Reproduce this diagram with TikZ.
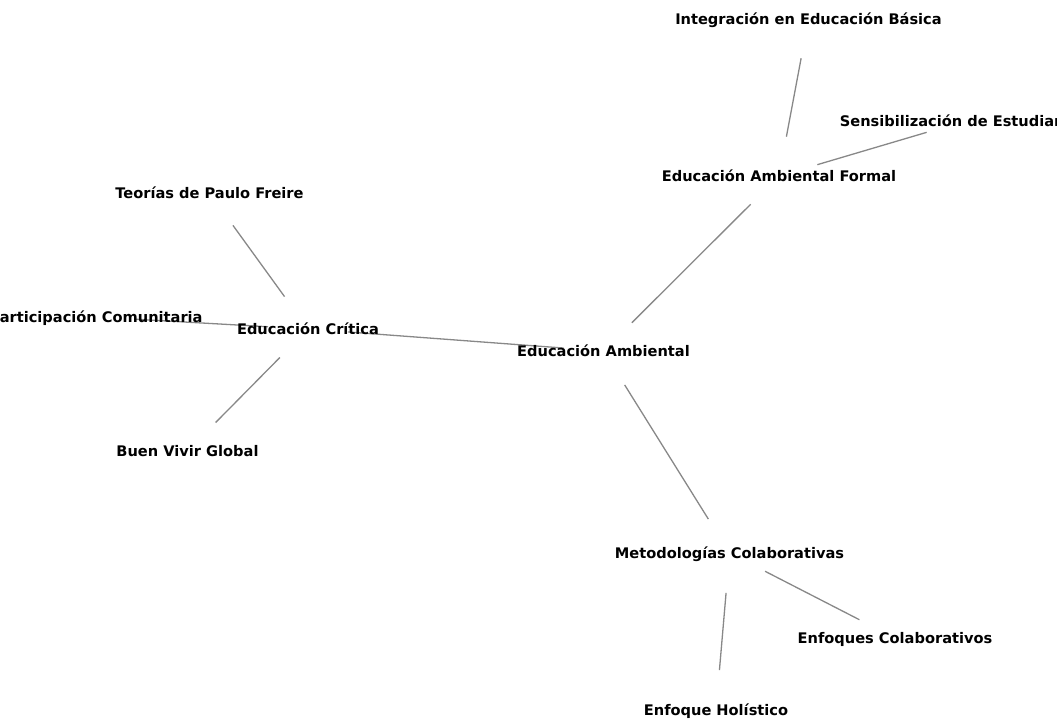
\documentclass[tikz,border=0pt]{standalone}
\usepackage{fontspec}
\setmainfont{DejaVu Sans}
\definecolor{edgec}{RGB}{136,136,136}
\pgfdeclarelayer{background}
\pgfsetlayers{background,main}
\begin{document}
\begin{tikzpicture}[x=1pt,y=-1pt,
  lbl/.style={font=\fontsize{14.6}{17}\selectfont\bfseries, inner sep=0pt, text height=10.6pt, text depth=0pt, anchor=center},
  edge/.style={draw=edgec, line width=1.3pt, shorten <=40pt, shorten >=40pt}]
\useasboundingbox (0,0) rectangle (1057,718);
\node[lbl] (int) at (808.5,19) {Integración en Educación Básica};
\node[lbl] (sen) at (965,121) {Sensibilización de Estudiantes};
\node[lbl] (form) at (779,176) {Educación Ambiental Formal};
\node[lbl] (teo) at (209.5,193) {Teorías de Paulo Freire};
\node[lbl] (par) at (96,317) {Participación Comunitaria};
\node[lbl] (cri) at (308,329) {Educación Crítica};
\node[lbl] (amb) at (603.5,351) {Educación Ambiental};
\node[lbl] (buen) at (187.5,451) {Buen Vivir Global};
\node[lbl] (met) at (729.5,553) {Metodologías Colaborativas};
\node[lbl] (enf) at (895,638) {Enfoques Colaborativos};
\node[lbl] (hol) at (716,710) {Enfoque Holístico};
\begin{pgfonlayer}{background}
\draw[edge] (int.center) -- (form.center);
\draw[edge] (sen.center) -- (form.center);
\draw[edge] (form.center) -- (amb.center);
\draw[edge] (teo.center) -- (cri.center);
\draw[edge] (par.center) -- (cri.center);
\draw[edge] (cri.center) -- (amb.center);
\draw[edge] (cri.center) -- (buen.center);
\draw[edge] (amb.center) -- (met.center);
\draw[edge] (met.center) -- (enf.center);
\draw[edge] (met.center) -- (hol.center);
\end{pgfonlayer}
\end{tikzpicture}
\end{document}
